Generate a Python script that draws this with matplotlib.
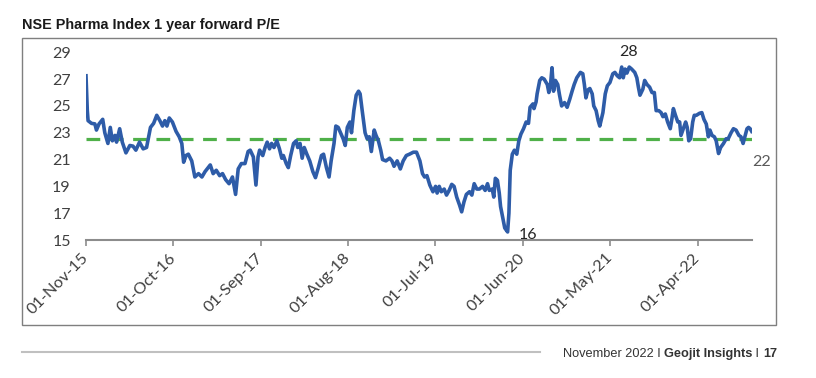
import pandas as pd
import matplotlib.pyplot as plt
from matplotlib.patches import Rectangle
from matplotlib.lines import Line2D

# -------------------------
# DATA
# -------------------------
dates = [
    "2015-11-01", "2015-11-06", "2015-11-09", "2015-11-22", "2015-12-05", "2015-12-11",
    "2015-12-21", "2016-01-04", "2016-01-12", "2016-01-24", "2016-02-02", "2016-02-10",
    "2016-02-20", "2016-02-26", "2016-03-09", "2016-03-19", "2016-04-02", "2016-04-17",
    "2016-04-29", "2016-05-10", "2016-05-24", "2016-06-07", "2016-06-20", "2016-07-05",
    "2016-07-17", "2016-07-29", "2016-08-10", "2016-08-20", "2016-08-29", "2016-09-06",
    "2016-09-15", "2016-09-27", "2016-10-11", "2016-10-23", "2016-11-02", "2016-11-09",
    "2016-11-18", "2016-11-27", "2016-12-10", "2016-12-22", "2017-01-05", "2017-01-18",
    "2017-01-30", "2017-02-19", "2017-03-02", "2017-03-14", "2017-03-27", "2017-04-07",
    "2017-04-19", "2017-05-02", "2017-05-15", "2017-05-27", "2017-06-06", "2017-06-18",
    "2017-07-02", "2017-07-14", "2017-07-22", "2017-08-03", "2017-08-13", "2017-08-21",
    "2017-08-27", "2017-09-08", "2017-09-17", "2017-09-25", "2017-10-04", "2017-10-12",
    "2017-10-21", "2017-11-01", "2017-11-11", "2017-11-20", "2017-11-26", "2017-12-07",
    "2017-12-15", "2017-12-24", "2018-01-04", "2018-01-14", "2018-01-20", "2018-01-29",
    "2018-02-06", "2018-02-14", "2018-02-24", "2018-03-07", "2018-03-19", "2018-03-29",
    "2018-04-09", "2018-04-21", "2018-04-29", "2018-05-10", "2018-05-20", "2018-05-28",
    "2018-06-08", "2018-06-15", "2018-06-24", "2018-07-03", "2018-07-13", "2018-07-21",
    "2018-07-29", "2018-08-08", "2018-08-14", "2018-08-23", "2018-09-01", "2018-09-10",
    "2018-09-16", "2018-09-24", "2018-10-05", "2018-10-13", "2018-10-21", "2018-10-29",
    "2018-11-09", "2018-11-16", "2018-11-25", "2018-12-04", "2018-12-11", "2018-12-24",
    "2019-01-07", "2019-01-16", "2019-01-24", "2019-02-05", "2019-02-17", "2019-02-28",
    "2019-03-12", "2019-03-24", "2019-04-08", "2019-04-20", "2019-05-03", "2019-05-13",
    "2019-05-21", "2019-05-30", "2019-06-10", "2019-06-22", "2019-07-02", "2019-07-08",
    "2019-07-16", "2019-07-24", "2019-08-04", "2019-08-13", "2019-08-23", "2019-09-02",
    "2019-09-11", "2019-09-21", "2019-10-02", "2019-10-10", "2019-10-19", "2019-10-28",
    "2019-11-09", "2019-11-18", "2019-11-27", "2019-12-07", "2019-12-17", "2019-12-29",
    "2020-01-08", "2020-01-17", "2020-01-24", "2020-02-04", "2020-02-10", "2020-02-16",
    "2020-02-24", "2020-03-02", "2020-03-07", "2020-03-15", "2020-03-23", "2020-04-03",
    "2020-04-08", "2020-04-13", "2020-04-21", "2020-04-29", "2020-05-08", "2020-05-16",
    "2020-05-24", "2020-06-03", "2020-06-13", "2020-06-22", "2020-06-28", "2020-07-09",
    "2020-07-13", "2020-07-21", "2020-07-25", "2020-08-04", "2020-08-12", "2020-08-21",
    "2020-09-02", "2020-09-08", "2020-09-14", "2020-09-20", "2020-09-26", "2020-10-03",
    "2020-10-12", "2020-10-19", "2020-10-27", "2020-11-07", "2020-11-17", "2020-11-27",
    "2020-12-06", "2020-12-14", "2020-12-24", "2021-01-07", "2021-01-16", "2021-01-22",
    "2021-01-28", "2021-02-05", "2021-02-12", "2021-02-21", "2021-02-27", "2021-03-08",
    "2021-03-16", "2021-03-22", "2021-04-03", "2021-04-12", "2021-04-20", "2021-04-30",
    "2021-05-11", "2021-05-19", "2021-05-28", "2021-06-06", "2021-06-14", "2021-06-20",
    "2021-06-27", "2021-07-04", "2021-07-13", "2021-07-22", "2021-08-03", "2021-08-11",
    "2021-08-17", "2021-08-23", "2021-09-03", "2021-09-10", "2021-09-19", "2021-09-29",
    "2021-10-08", "2021-10-17", "2021-10-24", "2021-11-03", "2021-11-12", "2021-11-19",
    "2021-11-28", "2021-12-07", "2021-12-17", "2021-12-23", "2021-12-29", "2022-01-06",
    "2022-01-15", "2022-01-22", "2022-01-27", "2022-02-05", "2022-02-14", "2022-02-20",
    "2022-02-26", "2022-03-05", "2022-03-13", "2022-03-19", "2022-03-27", "2022-04-08",
    "2022-04-17", "2022-04-25", "2022-05-04", "2022-05-12", "2022-05-18", "2022-05-26",
    "2022-06-04", "2022-06-11", "2022-06-20", "2022-06-28", "2022-07-09", "2022-07-19",
    "2022-07-27", "2022-08-07", "2022-08-16", "2022-08-26", "2022-09-06", "2022-09-14",
    "2022-09-22", "2022-09-29", "2022-10-07", "2022-10-13", "2022-10-19", "2022-10-25",
]

pe = [
    27.25, 24.65, 23.9, 23.7, 23.66, 23.2,
    23.66, 24.0, 23.0, 22.2, 23.4, 22.4,
    22.8, 22.3, 23.3, 22.3, 21.5, 22.05,
    22.0, 21.7, 22.3, 21.8, 21.9, 23.4,
    23.7, 24.3, 23.9, 23.5, 23.9, 23.5,
    24.1, 23.8, 23.1, 22.7, 22.2, 20.8,
    21.3, 21.4, 20.9, 19.7, 19.95, 19.7,
    20.1, 20.6, 19.95, 20.2, 19.8, 19.95,
    19.5, 19.2, 19.7, 18.4, 20.3, 20.7,
    20.7, 21.6, 21.7, 21.2, 19.1, 21.2,
    21.7, 21.3, 21.9, 22.3, 21.8, 22.2,
    21.9, 22.4, 21.8, 21.1, 21.3, 20.7,
    20.4, 21.3, 22.2, 22.4, 21.9, 22.2,
    21.1, 21.9, 21.4, 20.9, 20.1, 19.65,
    20.4, 21.3, 21.4, 20.4, 19.7, 20.9,
    22.2, 23.5, 23.4, 23.0, 22.55, 22.05,
    23.4, 23.8, 23.0, 24.65, 25.8, 26.1,
    25.9, 24.65, 23.0, 22.55, 22.7, 21.6,
    23.2, 22.8, 22.4, 21.7, 21.0, 20.9,
    21.1, 20.9, 20.5, 20.9, 20.3, 20.9,
    21.3, 21.4, 21.55, 21.55, 20.9, 19.95,
    19.7, 19.8, 19.1, 18.6, 19.0, 18.5,
    19.0, 18.6, 18.8, 18.35, 18.7, 19.15,
    19.0, 18.2, 17.6, 17.1, 17.85, 18.4,
    18.6, 18.35, 19.2, 18.8, 18.8, 19.0,
    18.7, 19.2, 18.7, 18.8, 18.2, 19.6,
    19.45, 18.5, 17.5, 16.7, 15.9, 15.6,
    17.0, 20.2, 21.4, 21.7, 21.4, 22.4,
    22.9, 23.3, 23.8, 23.7, 24.9, 25.15,
    24.8, 25.3, 25.9, 26.9, 27.1, 27.0,
    26.6, 26.0, 26.5, 27.85, 26.1, 26.9,
    26.6, 25.8, 25.0, 25.25, 24.9, 25.5,
    26.1, 26.6, 27.1, 27.5, 27.4, 26.6,
    25.6, 26.2, 26.3, 25.9, 25.0, 24.65,
    23.9, 23.5, 24.5, 25.9, 26.5, 26.75,
    27.4, 27.5, 27.25, 27.1, 27.9, 27.1,
    27.75, 27.45, 27.9, 27.75, 27.5, 27.1,
    26.4, 25.8, 26.25, 26.9, 26.6, 26.4,
    26.0, 26.0, 24.65, 24.65, 24.5, 24.2,
    24.4, 23.8, 23.3, 24.0, 24.8, 24.3,
    23.8, 23.8, 22.8, 23.3, 23.8, 23.4,
    22.4, 22.55, 23.8, 24.3, 24.3, 24.45,
    24.5, 24.0, 23.65, 22.7, 23.2, 22.8,
    22.7, 22.4, 21.45, 21.9, 22.2, 22.55,
    22.55, 23.0, 23.3, 23.2, 22.8, 22.7,
    22.2, 22.7, 23.3, 23.4, 23.3, 23.1,
]

avg_pe = 22.5

tick_dates = ["2015-11-01", "2016-10-01", "2017-09-01", "2018-08-01",
              "2019-07-01", "2020-06-01", "2021-05-01", "2022-04-01"]
tick_labels = ["01-Nov-15", "01-Oct-16", "01-Sep-17", "01-Aug-18",
               "01-Jul-19", "01-Jun-20", "01-May-21", "01-Apr-22"]

# point labels: (text, date, value)
point_labels = [("28", "2021-07-12", 29.0),
                ("16", "2020-06-22", 15.35),
                ("22", "2022-11-30", 20.8)]

# -------------------------
# STYLE
# -------------------------
W, H = 816, 378
blue = "#2E5CA8"
green = "#4FB049"
tick_font = "Lato"
footer_font = "Liberation Sans"

fig = plt.figure(figsize=(W / 100, H / 100), dpi=100)
ax = fig.add_axes([86 / W, 1 - 240 / H, 665.7 / W, 187.7 / H])

x = pd.to_datetime(dates)

ax.plot(x, pe, color=blue, lw=2.6, solid_joinstyle="round", zorder=3)
ax.axhline(avg_pe, color=green, lw=2.3, dashes=(4.3, 3.0), zorder=2)

ax.set_xlim(x[0], x[-1])
ax.set_ylim(15, 29)
ax.set_yticks(range(15, 30, 2))
ax.set_xticks(pd.to_datetime(tick_dates))
ax.set_xticklabels(tick_labels, rotation=45, ha="right", va="center",
                   rotation_mode="anchor")

for s in ["left", "top", "right"]:
    ax.spines[s].set_visible(False)
ax.spines["bottom"].set_color("#8c8c8c")
ax.spines["bottom"].set_linewidth(1.5)

ax.tick_params(axis="y", length=0, pad=11, labelsize=11.5,
               labelcolor="#404040")
ax.tick_params(axis="x", length=4.3, width=1.2, color="#8c8c8c", pad=7,
               labelsize=11.8, labelcolor="#404040", direction="out")
for lab in ax.get_xticklabels() + ax.get_yticklabels():
    lab.set_family(tick_font)

# labels on the line
for txt, d, v in point_labels:
    ax.text(pd.Timestamp(d), v, txt, ha="center", va="center",
            fontsize=11.5, family=tick_font,
            color="#595959" if txt == "22" else "#262626",
            clip_on=False, zorder=5)

# -------------------------
# TITLE, FRAME, FOOTER
# -------------------------
fig.text(22 / W, 1 - 29 / H, "NSE Pharma Index 1 year forward P/E",
         fontsize=10.4, fontweight="bold", family="Liberation Sans",
         color="#1a1a1a", va="baseline")

fig.add_artist(Rectangle((22 / W, 1 - 325 / H), 754 / W, 287 / H,
                         transform=fig.transFigure, fill=False,
                         ec="#7f7f7f", lw=1.0))

fig.add_artist(Line2D([22 / W, 540 / W], [1 - 352 / H, 1 - 352 / H],
                      transform=fig.transFigure, color="#c0c0c0", lw=1.5))

# footer pieces chained right to left
pieces = [("17", "bold"), (" I ", "normal"), ("Geojit Insights", "bold"),
          ("November 2022 I ", "normal")]
prev = fig.text(777 / W, 1 - 357 / H, pieces[0][0], ha="right",
                va="baseline", fontsize=9.2, fontweight=pieces[0][1],
                family=footer_font, color="#333333")
for txt, wt in pieces[1:]:
    prev = ax.annotate(txt, xy=(0, 0), xycoords=prev, ha="right",
                       va="bottom", fontsize=9.2, fontweight=wt,
                       family=footer_font, color="#333333",
                       annotation_clip=False)

plt.savefig("out.png", dpi=100)
